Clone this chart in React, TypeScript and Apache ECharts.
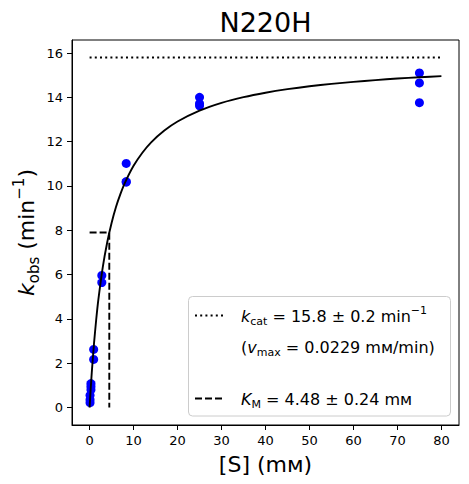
import React, { useEffect, useRef } from "react";
import * as echarts from "echarts";

// ---------- data ----------
const chartTitle = "N220H";
const xTickValues = [0, 10, 20, 30, 40, 50, 60, 70, 80];
const yTickValues = [0, 2, 4, 6, 8, 10, 12, 14, 16];

// measured points: substrate concentration (mM) and kobs (1/min)
const substrateConc = [
  0.103, 0.103, 0.103, 0.309, 0.309, 0.309,
  0.926, 0.926, 2.78, 2.78,
  8.33, 8.33, 8.33, 25, 25, 25, 75, 75, 75,
];
const kobsValues = [
  0.22, 0.35, 0.55, 0.8, 0.95, 1.08,
  2.62, 2.17, 5.96, 5.64,
  11.02, 10.2, 10.17, 14.0, 13.72, 13.62, 15.1, 14.65, 13.76,
];

// fitted curve
const fitX = [0, 0.25, 0.5, 1, 1.5, 2, 3, 4, 5, 6, 7, 8, 10, 12, 14, 17, 20, 25, 30, 35, 40, 45, 50, 55, 60, 65, 70, 75, 80];
const fitY = [0, 0.84, 1.59, 2.88, 3.96, 4.88, 6.34, 7.45, 8.33, 9.05, 9.63, 10.13, 10.91, 11.5, 11.97, 12.5, 12.91, 13.4, 13.75, 14.01, 14.21, 14.37, 14.5, 14.61, 14.7, 14.78, 14.85, 14.91, 14.96];

// kcat level line and KM guide
const kcatLineX = [0, 80];
const kcatLevel = [15.8, 15.8];
const kmGuideX = [0, 4.48, 4.48];
const kmGuideY = [7.9, 7.9, 0];

const FONT = "DejaVu Sans";

export default function App() {
  const ref = useRef<HTMLDivElement>(null);

  useEffect(() => {
    document.body.style.margin = "0";
    if (!ref.current) return;
    const chart = echarts.init(ref.current, null, { renderer: "svg" });

    const tok = (size: number, lh: number, va: string, italic = false) => ({
      fontFamily: FONT,
      fontSize: size,
      lineHeight: lh,
      verticalAlign: va,
      fontStyle: italic ? "italic" : "normal",
      fill: "#000",
      color: "#000",
    });

    const legendRich = {
      i: tok(16, 22, "middle", true),
      n: tok(16, 22, "middle"),
      sub: tok(11, 11, "bottom"),
      sup: tok(11, 11, "top"),
    };

    const axisLabelRich = {
      i: tok(22, 30, "middle", true),
      n: tok(22, 30, "middle"),
      sub: tok(15, 15, "bottom"),
      sup: tok(15, 15, "top"),
    };

    chart.setOption({
      animation: false,
      backgroundColor: "#fff",
      grid: {
        left: 72,
        right: 10,
        top: 40,
        bottom: 59,
        show: true,
        borderColor: "#000",
        borderWidth: 1,
        containLabel: false,
        outerBoundsMode: "none",
      },
      xAxis: {
        type: "value",
        min: -4,
        max: 84,
        axisLine: { show: true, onZero: false, lineStyle: { color: "#000", width: 1 } },
        axisTick: { show: true, length: 5, lineStyle: { color: "#000", width: 1 }, customValues: xTickValues },
        axisLabel: { customValues: xTickValues, margin: 9, color: "#000", fontSize: 13, fontFamily: FONT },
        splitLine: { show: false },
      },
      yAxis: {
        type: "value",
        min: -0.79,
        max: 16.59,
        axisLine: { show: true, onZero: false, lineStyle: { color: "#000", width: 1 } },
        axisTick: { show: true, length: 5, lineStyle: { color: "#000", width: 1 }, customValues: yTickValues },
        axisLabel: { customValues: yTickValues, margin: 9, color: "#000", fontSize: 13, fontFamily: FONT },
        splitLine: { show: false },
      },
      series: [
        {
          type: "line",
          data: kcatLineX.map((x, i) => [x, kcatLevel[i]]),
          symbol: "none",
          silent: true,
          lineStyle: { color: "#000", width: 1.9, type: [2, 3.2], cap: "butt" },
          z: 2,
        },
        {
          type: "line",
          data: kmGuideX.map((x, i) => [x, kmGuideY[i]]),
          symbol: "none",
          silent: true,
          lineStyle: { color: "#000", width: 1.9, type: [7, 3], cap: "butt" },
          z: 2,
        },
        {
          type: "scatter",
          data: substrateConc.map((x, i) => [x, kobsValues[i]]),
          symbol: "circle",
          symbolSize: 9,
          itemStyle: { color: "#0000ff", opacity: 1 },
          silent: true,
          z: 3,
        },
        {
          type: "line",
          data: fitX.map((x, i) => [x, fitY[i]]),
          symbol: "none",
          smooth: 0.2,
          silent: true,
          lineStyle: { color: "#000", width: 1.9 },
          z: 4,
        },
      ],
      graphic: [
        {
          type: "text",
          x: 265.5,
          y: 22,
          style: {
            text: chartTitle,
            fontFamily: FONT,
            fontSize: 27,
            fill: "#000",
            align: "center",
            verticalAlign: "middle",
          },
        },
        {
          type: "text",
          x: 265.5,
          y: 464,
          style: {
            text: "[S] (m\u1D0D)",
            fontFamily: FONT,
            fontSize: 22,
            fill: "#000",
            align: "center",
            verticalAlign: "middle",
          },
        },
        {
          type: "text",
          x: 26,
          y: 232.5,
          rotation: Math.PI / 2,
          style: {
            text: "{i|k}{sub|obs}{n| (min}{sup|\u22121}{n|)}",
            rich: axisLabelRich,
            align: "center",
            verticalAlign: "middle",
            fill: "#000",
          },
        },
        {
          type: "rect",
          z: 50,
          shape: { x: 188.5, y: 296.5, width: 262, height: 119.5, r: 4 },
          style: { fill: "rgba(255,255,255,0.8)", stroke: "#cccccc", lineWidth: 1 },
        },
        {
          type: "line",
          z: 51,
          shape: { x1: 195, y1: 315.5, x2: 225, y2: 315.5 },
          style: { stroke: "#000", lineWidth: 1.9, lineDash: [2, 3.2] },
        },
        {
          type: "line",
          z: 51,
          shape: { x1: 195, y1: 398.5, x2: 225, y2: 398.5 },
          style: { stroke: "#000", lineWidth: 1.9, lineDash: [7, 3] },
        },
        {
          type: "text",
          z: 51,
          x: 241,
          y: 316,
          style: {
            text: "{i|k}{sub|cat}{n| = 15.8 \u00B1 0.2 min}{sup|\u22121}",
            rich: legendRich,
            align: "left",
            verticalAlign: "middle",
            fill: "#000",
          },
        },
        {
          type: "text",
          z: 51,
          x: 241,
          y: 347,
          style: {
            text: "{n|(}{i|v}{sub|max}{n| = 0.0229 m\u1D0D/min)}",
            rich: legendRich,
            align: "left",
            verticalAlign: "middle",
            fill: "#000",
          },
        },
        {
          type: "text",
          z: 51,
          x: 241,
          y: 399,
          style: {
            text: "{i|K}{sub|M}{n| = 4.48 \u00B1 0.24 m\u1D0D}",
            rich: legendRich,
            align: "left",
            verticalAlign: "middle",
            fill: "#000",
          },
        },
      ],
    });

    return () => {
      chart.dispose();
    };
  }, []);

  return <div ref={ref} style={{ width: 469, height: 484 }} />;
}
